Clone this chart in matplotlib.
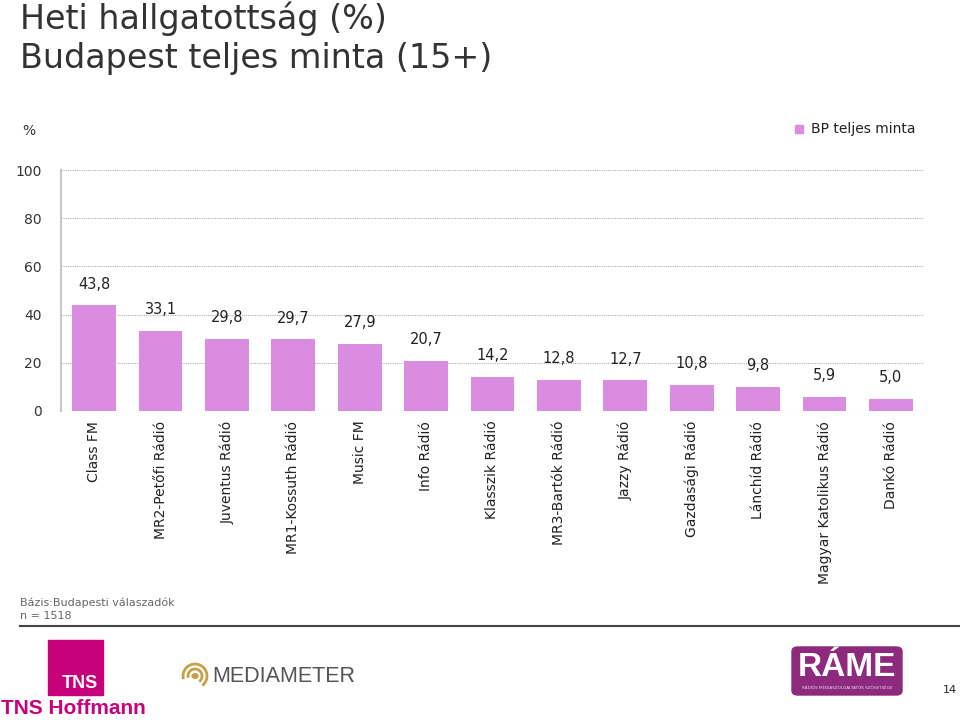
import matplotlib.pyplot as plt
from matplotlib.patches import Rectangle, FancyBboxPatch, Arc, Circle

# data
stations = ['Class FM', 'MR2-Petőfi Rádió', 'Juventus Rádió', 'MR1-Kossuth Rádió',
            'Music FM', 'Info Rádió', 'Klasszik Rádió', 'MR3-Bartók Rádió',
            'Jazzy Rádió', 'Gazdasági Rádió', 'Lánchíd Rádió',
            'Magyar Katolikus Rádió', 'Dankó Rádió']
values = [43.8, 33.1, 29.8, 29.7, 27.9, 20.7, 14.2, 12.8, 12.7, 10.8, 9.8, 5.9, 5.0]
yticks = [0, 20, 40, 60, 80, 100]

bar_col = '#DA8CE0'
plt.rcParams['font.family'] = ['DejaVu Sans']

fig = plt.figure(figsize=(9.6, 7.22), dpi=100)
ax = fig.add_axes([61/960, 1-411/722, 863/960, 241/722])

x = range(len(values))
ax.bar(x, values, width=0.66, color=bar_col, zorder=3)
for i, v in enumerate(values):
    ax.annotate(('%.1f' % v).replace('.', ','), (i, v), xytext=(0, 10),
                textcoords='offset points', ha='center', va='bottom',
                fontsize=10.5, color='#222222')

ax.set_xlim(-0.5, len(values) - 0.5)
ax.set_ylim(0, 100)
ax.set_yticks(yticks)
ax.set_yticklabels([str(t) for t in yticks], fontsize=10, color='#333333')
ax.set_xticks(list(x))
ax.set_xticklabels(stations, rotation=90, ha='center', va='top',
                   fontsize=10, color='#222222')
ax.tick_params(length=0, pad=14, axis='y')
ax.tick_params(length=0, pad=7, axis='x')
ax.yaxis.grid(True, color='#b0b0b0', linestyle=(0, (1, 1)), linewidth=0.8, zorder=0)
for s in ['top', 'right', 'bottom']:
    ax.spines[s].set_visible(False)
ax.spines['left'].set_color('#c8c8c8')
ax.spines['left'].set_linewidth(1.5)

# titles
fig.text(20/960, 1-29/722, 'Heti hallgatottság (%)', fontsize=24,
         color='#333333', va='baseline', ha='left')
fig.text(20/960, 1-68/722, 'Budapest teljes minta (15+)', fontsize=24,
         color='#333333', va='baseline', ha='left')
fig.text(22/960, 1-131/722, '%', fontsize=10, color='#333333', va='center')

# legend
fig.patches.append(Rectangle((795/960, 1-133/722), 8/960, 8/722,
                             transform=fig.transFigure, color=bar_col))
fig.text(811/960, 1-129/722, 'BP teljes minta', fontsize=10,
         color='#222222', va='center')

# footnote
fig.text(20/960, 1-603/722, 'Bázis:Budapesti válaszadók', fontsize=8,
         color='#666666', va='center')
fig.text(20/960, 1-616/722, 'n = 1518', fontsize=8, color='#666666', va='center')
fig.add_artist(plt.Line2D([20/960, 1], [1-626/722, 1-626/722],
                          transform=fig.transFigure, color='#444444', lw=1.5))

# TNS logo
mag = '#C8007A'
fig.patches.append(Rectangle((48/960, 1-695/722), 55/960, 55/722,
                             transform=fig.transFigure, color=mag))
fig.text(80/960, 1-683/722, 'TNS', fontsize=13, weight='bold', color='white',
         ha='center', va='center', family='Liberation Sans')
fig.text(73/960, 1-709/722, 'TNS Hoffmann', fontsize=15, weight='bold',
         color=mag, ha='center', va='center', family='Liberation Sans')

# mediameter logo
fig.text(212/960, 1-676/722, 'MEDIAMETER', fontsize=15.5, color='#555555',
         ha='left', va='center', family='Liberation Sans')
cx, cy = 195, 676
fig.patches.append(Circle((cx/960, 1-cy/722), 3/960, transform=fig.transFigure,
                          color='#c8a048'))
for r in (7, 12):
    fig.patches.append(Arc((cx/960, 1-cy/722), 2*r/960, 2*r/722, theta1=-60, theta2=200,
                           transform=fig.transFigure, color='#c8a048', lw=2))

# RAME logo
fig.patches.append(FancyBboxPatch((792/960, 1-695/722), 110/960, 48/722,
                                  boxstyle='round,pad=0,rounding_size=0.006',
                                  transform=fig.transFigure, color='#8E2A7E'))
fig.text(847/960, 1-668/722, 'RÁME', fontsize=24, weight='bold', color='white',
         ha='center', va='center', family='Liberation Sans')
fig.text(847/960, 1-688/722, 'RÁDIÓS MÉDIASZOLGÁLTATÓK SZÖVETSÉGE', fontsize=3,
         color='#f0d8f0', ha='center', va='center')
fig.text(950/960, 1-690/722, '14', fontsize=8, color='#222222', ha='center', va='center')

fig.savefig('out.png', dpi=100, facecolor='white')
